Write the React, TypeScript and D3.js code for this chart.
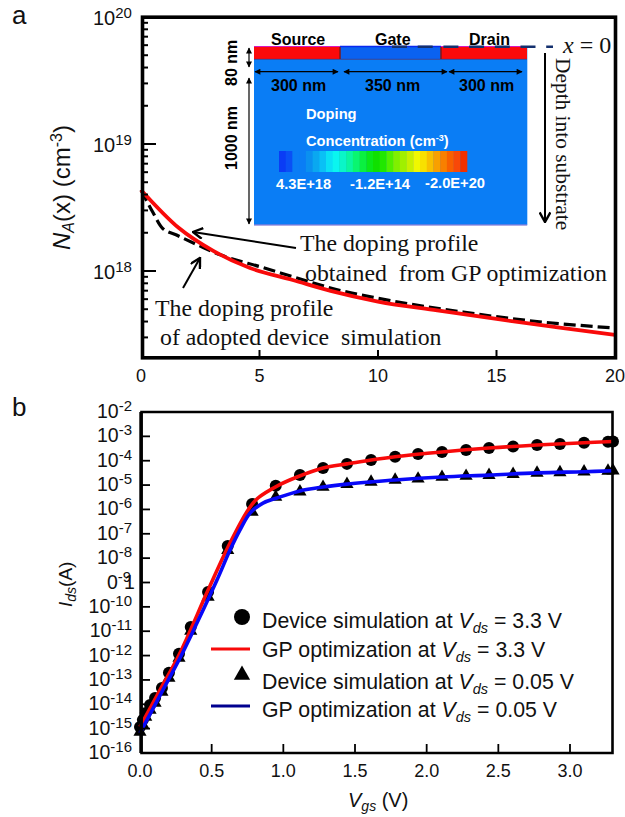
import React from "react";
import * as d3 from "d3";

// Panel a: doping profile (depth, concentration)
const depthGP = [0, 1.6, 3.05, 4.6, 6.4, 8, 10, 12.5, 15, 17.5, 20];
const dopingGP = [4.35e18, 2.18e18, 1.44e18, 1.056e18, 8.5e17, 6.97e17, 5.75e17, 4.89e17, 4.19e17, 3.62e17, 3.14e17];
const depthSim = [0, 0.5, 0.9, 1.5, 2.5, 3.35, 5.1, 7, 8, 10, 13.6, 16, 20];
const dopingSim = [4.35e18, 2.9e18, 2.18e18, 1.92e18, 1.57e18, 1.34e18, 1.07e18, 8.34e17, 7.35e17, 6.1e17, 4.75e17, 4.14e17, 3.55e17];

// Panel b: transfer curves (Vgs, log10 Ids)
const vgsPoints = [0, 0.02, 0.04, 0.07, 0.105, 0.153, 0.202, 0.272, 0.354, 0.475, 0.612, 0.782, 0.947, 1.116, 1.277, 1.444, 1.612, 1.78, 1.94, 2.107, 2.275, 2.435, 2.603, 2.77, 2.93, 3.098, 3.265, 3.3];
const logCircles = [-14.93, -14.64, -14.36, -14.03, -13.74, -13.33, -12.71, -11.93, -10.83, -9.39, -7.5, -5.78, -5.03, -4.59, -4.3, -4.13, -3.97, -3.835, -3.72, -3.64, -3.56, -3.48, -3.42, -3.355, -3.31, -3.26, -3.22, -3.21];
const logTriangles = [-15.14, -14.85, -14.52, -14.23, -13.95, -13.49, -12.92, -12.1, -10.99, -9.59, -7.67, -6.1, -5.49, -5.27, -5.08, -4.96, -4.87, -4.79, -4.74, -4.67, -4.63, -4.59, -4.55, -4.5, -4.48, -4.45, -4.42, -4.41];
const vgsRed = [0, 0.14, 0.272, 0.475, 0.614, 0.754, 0.823, 0.956, 1.096, 1.277, 1.444, 1.612, 1.78, 2.107, 2.435, 2.77, 3.098, 3.3];
const logRed = [-14.93, -13.41, -11.98, -9.31, -7.54, -6.02, -5.53, -5.04, -4.67, -4.3, -4.13, -3.97, -3.835, -3.64, -3.48, -3.355, -3.26, -3.21];
const vgsBlue = [0, 0.16, 0.279, 0.384, 0.537, 0.628, 0.698, 0.768, 0.858, 0.956, 1.116, 1.277, 1.444, 1.612, 1.78, 2.107, 2.435, 2.77, 3.098, 3.3];
const logBlue = [-15.18, -13.41, -12.1, -10.83, -8.9, -7.67, -6.84, -6.15, -5.74, -5.53, -5.24, -5.08, -4.96, -4.87, -4.79, -4.67, -4.59, -4.5, -4.45, -4.41];

// Tick labels
const xTicksA = [0, 5, 10, 15, 20];
const yDecadesA = [18, 19, 20];
const xTicksB = [0, 0.5, 1, 1.5, 2, 2.5, 3];
const yExpB = [-2, -3, -4, -5, -6, -7, -8, -9, -10, -11, -12, -13, -14, -15, -16];

// Inset colour bar
const barColors = ["#0a3cf5", "#0a50f5", "#0a7df5", "#0a7df5", "#0a90f0", "#0aa8f0", "#0ac0f5", "#0ae0f5", "#0af5f0", "#0af5c8", "#0af5a0", "#0af570", "#0af040", "#0ae818", "#10e000", "#20e800", "#50f000", "#80f000", "#a0f000", "#c8f000", "#f0f800", "#f8e000", "#f8c000", "#f8a000", "#f88000", "#f86000", "#f84808", "#f03000"];

const SANS = "'Liberation Sans', Arial, sans-serif";
const SERIF = "'Liberation Serif', 'Times New Roman', serif";

const xA = d3.scaleLinear().domain([0, 20]).range([141, 615]);
const yA = d3.scaleLog().domain([1e17 * 10 ** 0.315, 1e20]).range([358, 17]);
const xB = d3.scaleLinear().domain([0, 3.3]).range([140, 613]);
const yB = d3.scaleLog().domain([1e-16, 1e-2]).range([753, 412]);

function pathA(xs: number[], ys: number[]) {
  return d3.line<[number, number]>().x((d) => xA(d[0])).y((d) => yA(d[1])).curve(d3.curveMonotoneX)(xs.map((x, i) => [x, ys[i]]))!;
}
function pathB(xs: number[], es: number[]) {
  return d3.line<[number, number]>().x((d) => xB(d[0])).y((d) => yB(10 ** d[1])).curve(d3.curveCatmullRom.alpha(0.5))(xs.map((x, i) => [x, es[i]]))!;
}

const minorA: number[] = [];
for (const dec of [17, 18, 19]) {
  for (let m = 2; m <= 9; m++) {
    const v = m * 10 ** dec;
    if (v >= yA.domain()[0]) minorA.push(v);
  }
}

const circleSym = d3.symbol().type(d3.symbolCircle).size(Math.PI * 36)()!;
const triSym = d3.symbol().type(d3.symbolTriangle).size(75)()!;
const legCircle = d3.symbol().type(d3.symbolCircle).size(Math.PI * 64)()!;
const legTri = d3.symbol().type(d3.symbolTriangle).size(115)()!;
const barScale = d3.scaleBand<number>().domain(barColors.map((_, i) => i)).range([279, 467]);

function LegendText({ y, lead, tail }: { y: number; lead: string; tail: string }) {
  return (
    <text x={262} y={y} fontFamily={SANS} fontSize={21.3} fill="#111">
      {lead} <tspan fontStyle="italic">V</tspan>
      <tspan fontStyle="italic" fontSize={14.5} dy={5}>ds</tspan>
      <tspan dy={-5}> = {tail} V</tspan>
    </text>
  );
}

export default function App() {
  return (
    <svg width={625} height={817} viewBox="0 0 625 817" style={{ position: "absolute", left: 0, top: 0, background: "#fff", display: "block" }}>
      <defs>
        <marker id="tip" viewBox="0 0 10 10" refX="9" refY="5" markerWidth="5.5" markerHeight="5" orient="auto-start-reverse" markerUnits="strokeWidth">
          <path d="M0,0 L10,5 L0,10 z" fill="#000" />
        </marker>
        <marker id="vee" viewBox="0 0 10 10" refX="9" refY="5" markerWidth="6" markerHeight="6" orient="auto" markerUnits="strokeWidth">
          <path d="M1,0.5 L9,5 L1,9.5" fill="none" stroke="#000" strokeWidth={2} />
        </marker>
      </defs>

      {/* ---------- Panel a ---------- */}
      <text x={12} y={24} fontFamily={SANS} fontSize={26} fill="#111">a</text>

      {/* inset */}
      <rect x={254} y={46} width={273.3} height={179.3} fill="#0a7df5" />
      <line x1={254} x2={527} y1={225} y2={225} stroke="#b080d0" strokeWidth={1} />
      <rect x={254} y={47} width={86} height={12} fill="#fb0a0a" />
      <rect x={340} y={47} width={101} height={12} fill="#0a62f0" />
      <rect x={441} y={47} width={86} height={12} fill="#fb0a0a" />
      <line x1={254} x2={527} y1={46.5} y2={46.5} stroke="#d818c0" strokeWidth={1} />
      <line x1={340} x2={441} y1={46.5} y2={46.5} stroke="#0a28f0" strokeWidth={1.5} />
      <line x1={254} x2={527} y1={59.3} y2={59.3} stroke="#503070" strokeWidth={1} opacity={0.7} />
      <line x1={340} x2={340} y1={47} y2={59} stroke="#801818" strokeWidth={1.5} />
      <line x1={441} x2={441} y1={47} y2={59} stroke="#801818" strokeWidth={1.5} />
      {barColors.map((c, i) => (
        <rect key={i} x={barScale(i)!} y={151} width={barScale.bandwidth() + 0.3} height={21} fill={c} />
      ))}
      <g fontFamily={SANS} fontWeight="bold" fill="#000" fontSize={16}>
        <text x={271} y={45}>Source</text>
        <text x={375} y={45}>Gate</text>
        <text x={469} y={45}>Drain</text>
        <text x={271} y={91}>300 nm</text>
        <text x={365} y={91}>350 nm</text>
        <text x={459} y={91}>300 nm</text>
        <text transform="translate(237,86) rotate(-90)">80 nm</text>
        <text transform="translate(237,170) rotate(-90)">1000 nm</text>
      </g>
      <g fontFamily={SANS} fontWeight="bold" fill="#fff" fontSize={14.7}>
        <text x={306} y={119}>Doping</text>
        <text x={306} y={146}>Concentration (cm<tspan fontSize={9} dy={-5}>-3</tspan><tspan dy={5}>)</tspan></text>
        <text x={276} y={189}>4.3E+18</text>
        <text x={350} y={189}>-1.2E+14</text>
        <text x={425} y={188}>-2.0E+20</text>
      </g>
      <g stroke="#000" strokeWidth={1.2} fill="none">
        <line x1={249} x2={249} y1={48} y2={67} markerStart="url(#tip)" markerEnd="url(#tip)" />
        <line x1={249} x2={249} y1={78} y2={224} markerStart="url(#tip)" markerEnd="url(#tip)" />
        <line x1={255} x2={338} y1={71.7} y2={71.7} markerStart="url(#tip)" markerEnd="url(#tip)" />
        <line x1={344} x2={447} y1={71.7} y2={71.7} markerStart="url(#tip)" markerEnd="url(#tip)" />
        <line x1={449} x2={522} y1={71.7} y2={71.7} markerStart="url(#tip)" markerEnd="url(#tip)" />
      </g>
      <line x1={392} x2={553} y1={46.7} y2={46.7} stroke="#14306e" strokeWidth={2.6} strokeDasharray="15 10.7" />
      <text x={563} y={53} fontFamily={SERIF} fontSize={24} fill="#111">
        <tspan fontStyle="italic">x</tspan> = 0
      </text>
      <line x1={545} x2={545} y1={53} y2={222} stroke="#000" strokeWidth={2} markerEnd="url(#vee)" />
      <text transform="translate(556,58) rotate(90)" fontFamily={SERIF} fontSize={21.4} fill="#111">Depth into substrate</text>

      {/* curves */}
      <path d={pathA(depthSim, dopingSim)} fill="none" stroke="#000" strokeWidth={3.2} strokeDasharray="12 5" />
      <path d={pathA(depthGP, dopingGP)} fill="none" stroke="#f80a0a" strokeWidth={3.8} />

      {/* annotations */}
      <line x1={296} y1={248} x2={193} y2={232} stroke="#000" strokeWidth={2} markerEnd="url(#vee)" />
      <line x1={183} y1={288} x2={200} y2={258} stroke="#000" strokeWidth={2} markerEnd="url(#vee)" />
      <g fontFamily={SERIF} fontSize={23.8} fill="#111" xmlSpace="preserve" style={{ whiteSpace: "pre" }}>
        <text x={300} y={251} xmlSpace="preserve">The doping profile</text>
        <text x={305} y={281} xmlSpace="preserve">{"obtained  from GP optimization"}</text>
        <text x={155} y={316} xmlSpace="preserve">The doping profile</text>
        <text x={160} y={345} xmlSpace="preserve">{"of adopted device  simulation"}</text>
      </g>

      {/* axes a */}
      <rect x={142.5} y={17.2} width={473} height={340.6} fill="none" stroke="#000" strokeWidth={3.6} />
      {yDecadesA.map((d) => (
        <g key={d}>
          <line x1={142} x2={156} y1={yA(10 ** d)} y2={yA(10 ** d)} stroke="#000" strokeWidth={2} />
          <text x={93} y={yA(10 ** d) + 8} fontFamily={SANS} fontSize={20} fill="#111">10<tspan fontSize={15} dy={-7}>{d}</tspan></text>
        </g>
      ))}
      {minorA.map((v) => (
        <line key={v} x1={142} x2={148} y1={yA(v)} y2={yA(v)} stroke="#000" strokeWidth={2} />
      ))}
      {xTicksA.map((t) => (
        <g key={t}>
          {t > 0 && t < 20 && <line x1={xA(t)} x2={xA(t)} y1={350} y2={358} stroke="#000" strokeWidth={2} />}
          <text x={xA(t)} y={382} textAnchor="middle" fontFamily={SANS} fontSize={18} fill="#111">{t}</text>
        </g>
      ))}
      <text transform="translate(70,250) rotate(-90)" fontFamily={SANS} fontSize={24} fill="#111">
        <tspan fontStyle="italic">N</tspan>
        <tspan fontStyle="italic" fontSize={16} dy={4}>A</tspan>
        <tspan dy={-4}>(x) (cm</tspan>
        <tspan fontSize={16} dy={-8}>-3</tspan><tspan dy={8}>)</tspan>
      </text>

      {/* ---------- Panel b ---------- */}
      <text x={12} y={416} fontFamily={SANS} fontSize={26} fill="#111">b</text>

      {vgsPoints.map((v, i) => (
        <path key={i} d={circleSym} transform={`translate(${xB(v)},${yB(10 ** logCircles[i])})`} fill="#000" />
      ))}
      {vgsPoints.map((v, i) => (
        <path key={i} d={triSym} transform={`translate(${xB(v)},${yB(10 ** logTriangles[i])})`} fill="#000" />
      ))}
      <path d={pathB(vgsRed, logRed)} fill="none" stroke="#f80a0a" strokeWidth={3.6} />
      <path d={pathB(vgsBlue, logBlue)} fill="none" stroke="#0808f8" strokeWidth={3.6} />

      <path d={`M141.5,412 H612.5 V753 H141.5 Z`} fill="none" stroke="#000" strokeWidth={2.6} />
      <line x1={141} x2={141} y1={412} y2={753} stroke="#000" strokeWidth={3.4} />
      {yExpB.map((e) => (
        <g key={e}>
          {e > -16 && e < -2 && <line x1={141} x2={150} y1={yB(10 ** e)} y2={yB(10 ** e)} stroke="#000" strokeWidth={1.8} />}
          {e === -9 ? (
            <g fontFamily={SANS} fill="#111">
              <text x={107} y={yB(10 ** e) + 6} fontSize={19.5}>0<tspan fontSize={15} dy={-7}>-9</tspan></text>
              <text x={124} y={yB(10 ** e) + 6} fontSize={19.5}>1</text>
            </g>
          ) : (
            <text x={132} y={yB(10 ** e) + 6} textAnchor="end" fontFamily={SANS} fontSize={19.5} fill="#111">10<tspan fontSize={15} dy={-7}>{e}</tspan></text>
          )}
        </g>
      ))}
      {xTicksB.map((t) => (
        <g key={t}>
          {t > 0 && <line x1={xB(t)} x2={xB(t)} y1={744} y2={753} stroke="#000" strokeWidth={1.8} />}
          <text x={xB(t)} y={777} textAnchor="middle" fontFamily={SANS} fontSize={18} fill="#111">{t.toFixed(1)}</text>
        </g>
      ))}
      <text transform="translate(72,607) rotate(-90)" fontFamily={SANS} fontSize={19} fill="#111">
        <tspan fontStyle="italic">I</tspan>
        <tspan fontStyle="italic" fontSize={14} dy={4}>ds</tspan>
        <tspan dy={-4}>(A)</tspan>
      </text>
      <text x={348} y={807} fontFamily={SANS} fontSize={20} fill="#111">
        <tspan fontStyle="italic">V</tspan>
        <tspan fontStyle="italic" fontSize={14} dy={4}>gs</tspan>
        <tspan dy={-4}> (V)</tspan>
      </text>

      {/* legend */}
      <path d={legCircle} transform="translate(242,617)" fill="#000" />
      <line x1={211} x2={250} y1={649} y2={649} stroke="#f80a0a" strokeWidth={3} />
      <path d={legTri} transform="translate(242,675)" fill="#000" />
      <line x1={211} x2={250} y1={706} y2={706} stroke="#00008f" strokeWidth={3} />
      <LegendText y={628} lead="Device simulation at" tail="3.3" />
      <LegendText y={657} lead="GP optimization at" tail="3.3" />
      <LegendText y={689} lead="Device simulation at" tail="0.05" />
      <LegendText y={717} lead="GP optimization at" tail="0.05" />
    </svg>
  );
}
